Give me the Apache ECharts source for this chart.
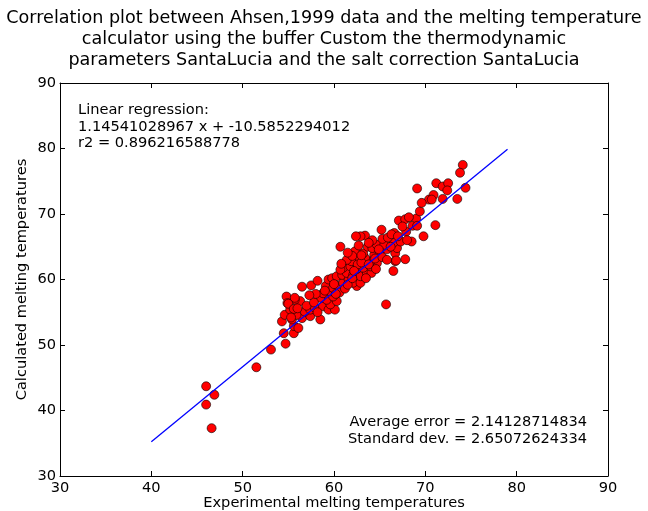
<!DOCTYPE html>
<html><head><meta charset="utf-8">
<script src="https://cdn.jsdelivr.net/npm/echarts@6/dist/echarts.min.js"></script>
<style>html,body{margin:0;padding:0;background:#fff}#c{width:648px;height:511px}</style>
</head><body><div id="c"></div>
<script>
const titleLines = [
  "Correlation plot between Ahsen,1999 data and the melting temperature",
  "calculator using the buffer Custom the thermodynamic",
  "parameters SantaLucia and the salt correction SantaLucia"
];
const regressionText = ["Linear regression:", "1.14541028967 x + -10.5852294012", "r2 = 0.896216588778"];
const errorText = ["Average error = 2.14128714834", "Standard dev. = 2.65072624334"];
const xLabel = "Experimental melting temperatures";
const yLabel = "Calculated melting temperatures";
const xTicks = [30, 40, 50, 60, 70, 80, 90];
const yTicks = [30, 40, 50, 60, 70, 80, 90];

// experimental (x) vs calculated (y) melting temperatures
const experimental = [
 46.0,46.9,46.0,46.6,51.5,53.1,54.7,54.5,
 55.6,55.6,56.1,54.3,55.4,56.5,57.4,58.5,54.6,55.9,55.2,56.8,57.4,57.9,58.8,59.4,60.1,59.6,60.3,59.2,58.5,59.9,58.8,59.6,
 56.3,55.7,54.8,54.9,55.7,55.0,55.6,56.5,57.5,59.1,59.9,60.5,61.0,59.4,59.8,60.3,60.9,61.6,62.5,62.1,62.9,
 61.4,62.1,62.9,63.6,64.1,61.0,61.8,62.5,63.2,64.0,64.7,64.0,63.4,62.7,61.9,61.4,60.7,62.3,63.2,64.4,65.0,65.8,66.7,66.9,
 67.8,66.7,66.5,65.7,62.7,63.7,64.2,64.7,65.5,66.5,65.3,65.2,66.6,63.4,62.9,62.4,68.5,69.8,67.9,68.6,67.1,67.8,69.0,69.4,
 70.4,69.6,69.1,70.9,70.7,71.9,73.5,71.2,71.9,72.5,72.4,74.4,74.1,73.8,71.1,69.1,66.8,
 57.0,57.8,58.2,58.0,59.0,60.6,61.2,60.0,61.5,62.0,60.7,62.6,63.0,63.8,64.5,65.3,65.8,63.0,62.0,64.9,66.2,64.2,63.8,65.9,
 66.3,67.3,67.0,68.0,67.5,68.2,60.2,57.3,56.0,55.3,58.2,60.8,61.5,62.2,63.5,64.6
];
const calculated = [
 43.7,42.4,40.9,37.3,46.6,49.3,50.2,51.8,
 51.8,52.9,52.6,53.6,53.9,54.1,54.4,53.9,54.6,54.6,55.4,55.1,55.4,55.7,55.9,55.4,55.4,56.2,56.7,56.9,57.2,57.4,57.9,58.2,
 56.7,56.9,57.4,56.4,57.2,56.3,55.5,58.9,59.1,59.0,58.7,59.0,59.5,60.0,60.2,60.5,60.7,60.0,59.0,59.5,59.5,
 61.0,60.7,60.5,61.0,61.0,61.8,62.0,61.6,61.8,62.0,62.5,62.8,63.3,63.0,62.8,63.0,65.0,64.3,64.0,63.8,64.0,64.6,64.0,64.8,
 63.1,62.8,61.3,56.2,65.2,65.0,64.8,65.3,65.3,65.6,66.2,67.6,67.1,66.7,66.6,66.6,65.8,66.6,67.3,68.2,69.0,69.2,69.3,70.4,
 72.2,71.7,73.9,72.9,72.2,72.3,72.3,74.7,74.2,74.7,73.6,74.0,77.5,76.3,68.3,68.2,62.9,
 56.0,56.5,55.0,57.8,58.3,58.0,58.6,59.3,59.2,60.2,61.5,62.3,62.6,62.3,63.2,63.4,63.0,63.7,63.6,64.6,65.0,66.0,65.6,66.4,
 66.9,65.8,66.6,66.0,68.1,69.5,57.8,57.6,55.6,54.2,59.8,62.4,64.1,61.3,60.2,61.6
];
// regression line endpoints (from the printed fit)
const fitX = [40, 79];
const fitY = [35.23, 79.90];

const points = experimental.map((x, i) => [x, calculated[i]]);
const fitLine = fitX.map((x, i) => [x, fitY[i]]);

const font = "DejaVu Sans";
const FS = 14.6;
const chart = echarts.init(document.getElementById('c'), null, {renderer: 'canvas'});
const G = {left: 60, top: 83, width: 548, height: 393, containLabel: false, outerBoundsMode: 'none'};

const axisCommon = {
  min: 30, max: 90, interval: 10,
  axisLine: {show: true, lineStyle: {color: '#000', width: 1}},
  axisTick: {show: true, inside: true, length: 5, lineStyle: {color: '#000'}},
  splitLine: {show: false}
};

chart.setOption({
  animation: false,
  backgroundColor: '#fff',
  grid: G,
  xAxis: [
    Object.assign({}, axisCommon, {type: 'value', position: 'bottom',
      axisLabel: {color: '#000', fontFamily: font, fontSize: FS, margin: 5,
        formatter: v => xTicks.includes(v) ? String(v) : ''},
      name: xLabel, nameLocation: 'middle', nameGap: 27, nameMoveOverlap: false,
      nameTextStyle: {color: '#000', fontFamily: font, fontSize: FS, verticalAlign: 'middle'}}),
    Object.assign({}, axisCommon, {type: 'value', position: 'top', axisLabel: {show: false}})
  ],
  yAxis: [
    Object.assign({}, axisCommon, {type: 'value', position: 'left',
      axisLabel: {color: '#000', fontFamily: font, fontSize: FS, margin: 4,
        formatter: v => yTicks.includes(v) ? String(v) : ''},
      name: yLabel, nameLocation: 'middle', nameGap: 38, nameRotate: 90, nameMoveOverlap: false,
      nameTextStyle: {color: '#000', fontFamily: font, fontSize: FS, verticalAlign: 'middle'}}),
    Object.assign({}, axisCommon, {type: 'value', position: 'right', axisLabel: {show: false}})
  ],
  series: [
    {type: 'line', data: fitLine, showSymbol: false, symbol: 'none',
     lineStyle: {color: '#0000ff', width: 1.3}, z: 3},
    {type: 'scatter', data: points, symbol: 'circle', symbolSize: 9,
     itemStyle: {color: '#ff0000', borderColor: '#000', borderWidth: 0.6, opacity: 1}, z: 2}
  ],
  graphic: [
    {type: 'text', left: 'center', top: 8,
     style: {text: titleLines.join('\n'), fontFamily: font, fontSize: 17.6, lineHeight: 21,
       fill: '#000', textAlign: 'center'}},
    {type: 'text', left: 78, top: 102,
     style: {text: regressionText.join('\n'), fontFamily: font, fontSize: FS, lineHeight: 16.5, fill: '#000'}},
    {type: 'text', right: 61, top: 414,
     style: {text: errorText.join('\n'), fontFamily: font, fontSize: FS, lineHeight: 17, fill: '#000', textAlign: 'right'}}
  ]
});
</script></body></html>
